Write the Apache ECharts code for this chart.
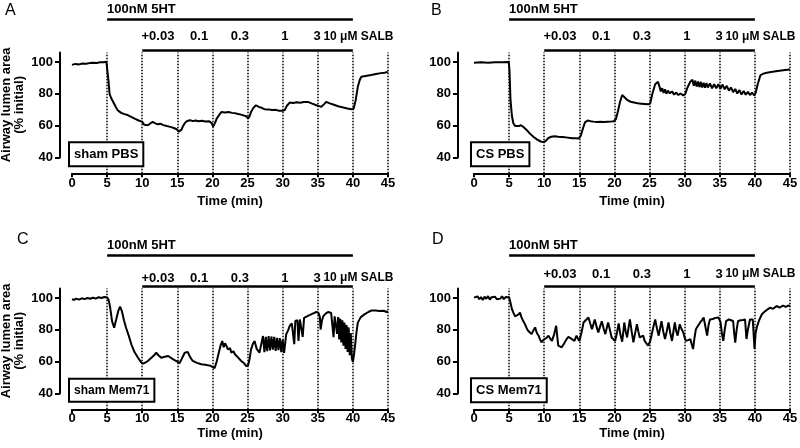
<!DOCTYPE html>
<html><head><meta charset="utf-8">
<script src="https://cdn.jsdelivr.net/npm/echarts@6/dist/echarts.min.js"></script>
<style>html,body{margin:0;padding:0;background:#fff}#c{width:800px;height:448px}</style>
</head><body><div id="c"></div>
<script>
// ---------- data ----------
const yTicks = [40, 60, 80, 100];
const eventTimes = [5, 10, 15, 20, 25, 30, 35, 40, 45];
const concLabels = ['+0.03', '0.1', '0.3', '1', '3', '10 μM SALB'];
const concTimes = [9.9, 18.1, 23.9, 30.3, 34.9, 35.8];
const concAlign = ['left', 'center', 'center', 'center', 'center', 'left'];
const htLabel = '100nM 5HT';
const htStart = 5, htEnd = 40, salbStart = 10, salbEnd = 40;
const panelLetters = ['A', 'B', 'C', 'D'];
const panelNames = ['sham PBS', 'CS PBS', 'sham Mem71', 'CS Mem71'];
const yName = 'Airway lumen area\n(% initial)';
const xName = 'Time (min)';

const traceA = [[0,98.2],[0.5,98.8],[1,98.5],[1.5,99.0],[2,98.9],[2.5,99.3],[3,99.5],[3.5,99.4],[4,99.8],[4.5,99.9],[4.9,100.2],[5.05,99],[5.2,88],[5.35,80],[5.6,77],[5.85,75],[6.2,72],[6.5,69.7],[7,68],[7.5,67.2],[8,66.5],[8.5,65.3],[9,64.2],[9.5,63.2],[10,62.3],[10.3,60.5],[10.5,59.5],[10.8,60.2],[11.2,61.5],[11.5,62.3],[11.8,61.6],[12.2,60.8],[12.6,61.2],[13,60.3],[13.5,59.7],[14,59.2],[14.5,58.5],[14.9,57.7],[15.2,56.2],[15.35,55.4],[15.6,57.5],[15.8,59.6],[16.1,61.8],[16.4,62.9],[16.8,63.4],[17.2,62.8],[17.6,63.2],[18,62.7],[18.5,63.1],[19,62.6],[19.5,62.8],[19.9,61.5],[20.1,59.4],[20.4,62],[20.6,64.4],[21,67],[21.3,68.6],[21.8,68.3],[22.3,68.5],[22.8,68],[23.3,67.7],[23.8,67.2],[24.3,66.6],[24.8,65.9],[25.1,64.4],[25.3,66],[25.5,68.6],[25.8,71],[26.2,72.8],[26.6,71.8],[27,71.2],[27.4,70.3],[28,70.2],[28.5,69.8],[29,69.9],[29.5,69.4],[30,69.3],[30.3,69.8],[30.6,72.5],[31,74.5],[31.5,74.2],[32,74.7],[32.5,74.4],[33,74.8],[33.6,74.9],[34.2,73.8],[34.8,72.8],[35.5,71.8],[35.9,73.5],[36.2,74.9],[36.7,74],[37.2,73.3],[37.9,72.2],[38.5,71.5],[39.2,70.8],[39.8,70.3],[40.1,70.6],[40.4,76],[40.7,84.4],[41,89],[41.2,90.7],[41.8,91.2],[42.6,91.8],[43.3,92.4],[44,93],[44.5,93.3],[45,93.8]];

const traceB = [[0,99.6],[1,99.8],[2,99.6],[3,99.8],[4,99.9],[4.95,100],[5.05,95],[5.2,76],[5.4,66],[5.6,61.5],[5.85,59.8],[6.1,59.2],[6.4,59.8],[6.7,60.2],[7,59.3],[7.5,57.2],[8,54.8],[8.5,52.8],[9,51.2],[9.5,50],[9.9,49.6],[10.2,50.2],[10.6,52.2],[11,53],[11.5,53.3],[12,53],[12.5,52.8],[13,52.6],[13.5,52.3],[14,52.1],[14.5,52],[14.9,51.9],[15.2,53.5],[15.5,58],[15.8,62],[16.2,63.2],[16.6,62.8],[17,62.5],[17.5,62.3],[18,62.4],[18.5,62.2],[19,62.4],[19.5,62.5],[19.9,62.8],[20.2,64],[20.5,69],[20.8,75],[21.1,79.2],[21.4,78],[21.8,76.2],[22.3,75],[22.8,74.5],[23.3,74],[23.8,73.8],[24.3,73.6],[24.8,73.4],[25.1,74],[25.4,80],[25.8,86],[26.2,87.6],[26.45,84],[26.6,81.5],[26.8,83.5],[27,80.5],[27.2,82.8],[27.4,80],[27.6,82],[27.9,80.3],[28.2,81.5],[28.5,79.5],[28.8,80.8],[29.1,79.2],[29.4,80.2],[29.8,79],[30.1,80],[30.4,84],[30.8,87.6],[31.1,88.8],[31.3,85],[31.5,88.3],[31.7,84.5],[31.9,87.8],[32.1,84.2],[32.3,87.5],[32.5,84],[32.7,87],[32.9,83.8],[33.1,86.8],[33.3,84],[33.6,86.5],[33.9,83.5],[34.2,86],[34.5,83.5],[34.8,86],[35.1,83.2],[35.4,85.8],[35.7,82.8],[36,85],[36.3,82],[36.6,84],[36.9,81],[37.2,83],[37.5,80.2],[37.8,82.3],[38.1,79.6],[38.4,81.8],[38.7,79.4],[39,81.2],[39.3,79.2],[39.6,80.8],[39.9,79],[40.1,80.5],[40.4,86],[40.8,91.8],[41.3,92.8],[41.7,93.3],[42.5,93.8],[43.5,94.5],[44.3,95],[45,95.3]];

const traceC = [[0,99.2],[0.3,98.8],[0.6,99.6],[1,99],[1.4,99.8],[1.8,99.3],[2.2,100],[2.6,99.5],[3,100.2],[3.4,99.6],[3.8,100.5],[4.2,100],[4.6,100.6],[5,100.3],[5.2,99],[5.4,95],[5.7,85.5],[6,81.3],[6.3,86.6],[6.6,92],[6.85,94.5],[7.1,91.8],[7.4,86],[7.7,81.3],[8.1,76],[8.45,70.9],[8.9,66],[9.4,62.4],[9.8,59.8],[10.1,58.7],[10.5,59.5],[10.8,60.4],[11.3,62.4],[11.7,64],[12,65.6],[12.3,64],[12.7,62.4],[13.2,63],[13.7,63.5],[14.2,62],[14.6,61],[15,60],[15.3,58.9],[15.6,61.5],[16.05,65.6],[16.3,64.5],[16.5,66],[16.8,63],[17.2,60.4],[17.8,59.2],[18.4,58.3],[19,58],[19.5,57.6],[19.8,57.2],[20.3,55.8],[20.6,60],[20.9,65.6],[21.15,70],[21.4,72.9],[21.6,69],[21.8,71.5],[22,69.8],[22.2,67.7],[22.5,68.5],[22.7,65.6],[23,66.5],[23.2,64.6],[23.6,62.8],[24.1,60.4],[24.5,59],[24.8,57.2],[25.1,58],[25.3,62],[25.5,67.7],[25.75,71],[26,72.9],[26.3,68],[26.7,65.6],[26.95,71],[27.2,76.1],[27.4,66],[27.6,75.5],[27.8,66.5],[28,76],[28.2,67],[28.4,75.8],[28.6,67.5],[28.8,75.5],[29,66.8],[29.2,75],[29.4,67.2],[29.6,74.8],[29.8,66],[30,73.8],[30.2,65.5],[30.5,77.1],[30.8,80],[31,82.4],[31.3,84],[31.5,84.8],[31.65,71],[31.8,85.5],[32.1,86],[32.25,73],[32.45,86.5],[32.7,87],[32.85,75.5],[33.05,87.5],[33.6,88.7],[34.2,90],[34.8,91.2],[35.1,90.6],[35.3,88],[35.4,80.2],[35.6,86],[35.8,88.7],[36.2,90.5],[36.5,91.2],[36.9,90.6],[37.1,89.9],[37.25,75.3],[37.4,88.5],[37.6,89.5],[37.75,77.5],[37.9,88],[38.05,74],[38.2,87],[38.35,72],[38.5,86],[38.65,70],[38.8,84.5],[38.95,68],[39.1,83],[39.25,66],[39.4,81.5],[39.55,64],[39.7,78],[39.85,62],[40,59.7],[40.15,64],[40.3,69.8],[40.5,78],[40.7,84.5],[41.1,87.8],[41.7,89.9],[42.2,91.2],[42.6,92.1],[43.2,92.2],[43.8,91.8],[44.4,92],[44.8,91.2],[45,91.5]];

const traceD = [[0,100.2],[0.25,99],[0.5,101],[0.75,99.3],[1,100.6],[1.25,98.8],[1.5,100.8],[1.75,99.5],[2,101.2],[2.25,99],[2.5,100.5],[2.75,99.4],[3,100.8],[3.25,99.2],[3.5,100.3],[3.75,99.6],[4,101],[4.25,99.3],[4.5,100.6],[4.75,99.8],[5,100.4],[5.2,97],[5.4,93],[5.6,90.8],[5.85,88.5],[6.1,87.7],[6.3,89.5],[6.55,90.8],[6.75,88],[6.9,86.5],[7.26,83.5],[7.5,81],[7.7,79.4],[7.95,78.2],[8.2,77.3],[8.45,79.5],[8.7,81.5],[8.95,78],[9.2,76.3],[9.4,74],[9.6,72.1],[9.85,73.5],[10.1,73.1],[10.35,75],[10.6,76.3],[10.85,74.5],[11.1,73],[11.4,77],[11.7,82.5],[11.85,76],[12,70],[12.25,69.3],[12.5,69],[12.85,71.5],[13.2,74.2],[13.45,75.5],[13.7,76.3],[14,74],[14.3,73],[14.6,76.3],[14.8,74.5],[15,73],[15.3,78],[15.6,84.6],[15.9,86],[16.3,87.7],[16.55,84],[16.8,80.4],[17,83.5],[17.2,86.5],[17.45,82],[17.7,78.4],[17.95,82],[18.2,85.4],[18.45,81],[18.7,77.3],[18.9,81],[19.1,84.6],[19.35,80],[19.6,75.2],[19.85,74],[20.1,73],[20.35,78],[20.6,84],[20.85,77],[21.1,72.5],[21.25,78],[21.4,84.6],[21.6,79],[21.8,75.2],[22,81],[22.2,86.5],[22.45,79],[22.7,72.1],[22.95,78],[23.2,83.5],[23.4,79],[23.6,75.2],[23.85,76],[24.1,76.3],[24.3,73],[24.55,71.5],[24.8,70],[25.1,73],[25.45,80],[25.8,86.5],[26.05,81],[26.3,76.3],[26.5,81],[26.7,85.4],[26.95,79],[27.2,74.2],[27.45,79],[27.7,84.6],[27.95,78],[28.2,73],[28.4,79],[28.6,84.6],[28.8,79],[29,76.3],[29.15,80],[29.3,83.5],[29.55,80.5],[29.8,78.4],[30,75],[30.2,73],[30.5,73.5],[30.8,74.2],[31,71],[31.2,67.9],[31.4,75],[31.6,80.4],[31.9,82.5],[32.2,84.6],[32.45,86],[32.7,87.7],[32.95,86.5],[33.2,76.3],[33.4,83],[33.6,86.5],[34,86.8],[34.4,87.5],[34.8,87.7],[35.1,85],[35.3,78],[35.5,73],[35.7,80],[35.9,85.5],[36.3,86.5],[36.6,86],[36.9,85.5],[37.05,78],[37.2,72],[37.4,80],[37.6,85.5],[38,86],[38.3,86.2],[38.6,86.5],[38.8,74.2],[39,80],[39.3,86.5],[39.5,86],[39.7,86.5],[39.85,75],[39.95,67.9],[40.1,78],[40.3,82],[40.6,86],[41,89.8],[41.4,91.5],[41.8,92.8],[42.2,93.9],[42.6,93.2],[43.1,95],[43.5,94],[44,95.2],[44.4,94.4],[44.8,95.3],[45,95]];

const traces = [traceA, traceB, traceC, traceD];

// ---------- layout (pixels / value-space anchors for annotations) ----------
const layout = [
  {x0: 72,  yAxisX: 60,  y100: 62,  letterX: 5,   letterY: 3,   concY: 115.9, showYName: true,  labelGap: 4, nameGap: 22, boxFont: 13},
  {x0: 474, yAxisX: 458, y100: 62,  letterX: 431, letterY: 3,   concY: 115.9, showYName: false, labelGap: 4, nameGap: 22, boxFont: 13},
  {x0: 72,  yAxisX: 60,  y100: 298, letterX: 17,  letterY: 232, concY: 112.5, showYName: true,  labelGap: 3, nameGap: 18, boxFont: 12},
  {x0: 474, yAxisX: 458, y100: 298, letterX: 432, letterY: 232, concY: 115.0, showYName: false, labelGap: 3, nameGap: 18, boxFont: 13}
];
const K = 1.59, YTOP = 138, YBOT = 30, YAXTOP = 106, XW = 316;
const HT_BAR_Y = 127.1, HT_LABEL_Y = 133.2, SALB_BAR_Y = 107.6, BOX_Y = 42;
const FONT = '"Liberation Sans", Arial, Helvetica, sans-serif';
const txt = (size, weight) => ({color: '#000', fontFamily: FONT, fontSize: size, fontWeight: weight || 'bold'});

const grid = [], xAxis = [], yAxis = [], series = [], title = [];
layout.forEach((L, p) => {
  const gi = grid.length;
  grid.push({left: L.x0, width: XW, top: L.y100 - (YTOP - 100) * K, height: (YTOP - YBOT) * K, containLabel: false, outerBoundsMode: 'none'});
  grid.push({left: L.yAxisX, width: 10, top: L.y100 - (YAXTOP - 100) * K, height: (YAXTOP - 40) * K, containLabel: false, outerBoundsMode: 'none'});
  xAxis.push({
    gridIndex: gi, type: 'value', min: 0, max: 45, interval: 5,
    axisLine: {show: true, onZero: false, lineStyle: {color: '#000', width: 2}},
    axisTick: {show: true, length: 4, lineStyle: {color: '#000', width: 2}},
    axisLabel: Object.assign({margin: L.labelGap}, txt(13)),
    splitLine: {show: false},
    name: xName, nameLocation: 'middle', nameGap: L.nameGap, nameTextStyle: txt(13)
  });
  xAxis.push({gridIndex: gi + 1, type: 'value', min: 0, max: 1, show: false});
  yAxis.push({gridIndex: gi, type: 'value', min: YBOT, max: YTOP, show: false});
  yAxis.push({
    gridIndex: gi + 1, type: 'value', min: 40, max: YAXTOP,
    axisLine: {show: true, onZero: false, lineStyle: {color: '#000', width: 2}},
    axisTick: {show: true, customValues: yTicks, length: 5, lineStyle: {color: '#000', width: 2}},
    axisLabel: Object.assign({customValues: yTicks, margin: 7}, txt(13)),
    splitLine: {show: false},
    name: L.showYName ? yName : '', nameLocation: 'middle', nameGap: 34,
    nameTextStyle: Object.assign({lineHeight: 13}, txt(13))
  });
  title.push({text: panelLetters[p], left: L.letterX, top: L.letterY, padding: 0, textStyle: txt(16, 'normal')});

  const dotted = eventTimes.map(t => [
    {coord: [t, YBOT], lineStyle: {type: [1.6, 1.4], width: 1.5, color: '#000'}},
    {coord: [t, YAXTOP]}
  ]);
  const bars = [
    [{coord: [htStart, HT_BAR_Y], lineStyle: {type: 'solid', width: 2.5, color: '#000'}}, {coord: [htEnd, HT_BAR_Y]}],
    [{coord: [salbStart, SALB_BAR_Y], lineStyle: {type: 'solid', width: 2.5, color: '#000'}}, {coord: [salbEnd, SALB_BAR_Y]}]
  ];
  const texts = [{name: htLabel, coord: [htStart, HT_LABEL_Y], label: {align: 'left'}}]
    .concat(concLabels.map((c, i) => ({name: c, coord: [concTimes[i], L.concY],
      label: i === concLabels.length - 1 ? {align: concAlign[i], fontSize: 12} : {align: concAlign[i]}})))
    .concat([{name: panelNames[p], coord: [0, BOX_Y], label: {align: 'left', offset: [-2, 0], backgroundColor: '#fff', borderColor: '#000', borderWidth: 2, padding: [5, 4, 4, 4], fontSize: L.boxFont}}]);

  series.push({
    type: 'line', xAxisIndex: gi, yAxisIndex: gi, data: traces[p],
    symbol: 'none', showSymbol: false, clip: false, z: 3,
    lineStyle: {color: '#000', width: 2}, silent: true, animation: false,
    markLine: {symbol: ['none', 'none'], silent: true, animation: false, label: {show: false},
      emphasis: {disabled: true}, data: dotted.concat(bars)},
    markPoint: {symbol: 'circle', symbolSize: 1, silent: true, animation: false,
      itemStyle: {color: 'rgba(0,0,0,0)'},
      label: Object.assign({show: true, position: 'inside', formatter: d => d.name, verticalAlign: 'middle'}, txt(13)),
      data: texts}
  });
});

const chart = echarts.init(document.getElementById('c'));
chart.setOption({animation: false, backgroundColor: '#fff', title, grid, xAxis, yAxis, series});
</script>
</body></html>
